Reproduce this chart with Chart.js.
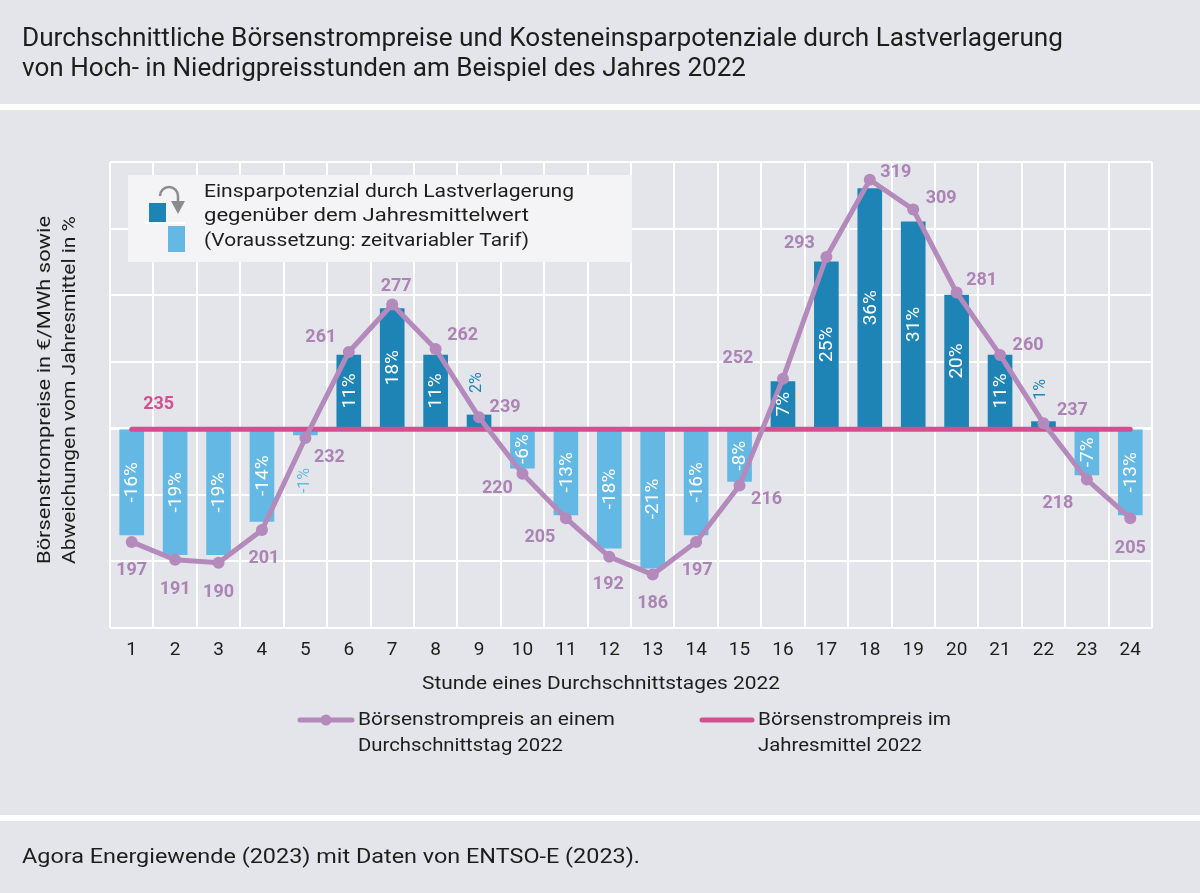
<!DOCTYPE html>
<html>
<head>
<meta charset="utf-8">
<script src="https://cdn.jsdelivr.net/npm/chart.js@4.4.1/dist/chart.umd.min.js"></script>
<style>
  html, body { margin: 0; padding: 0; background: #e4e5ea; }
  #wrap { width: 1200px; height: 893px; }
</style>
</head>
<body>
<div id="wrap"><canvas id="chart" width="1200" height="893"></canvas></div>
<script>
const FONT = 'Roboto, "Open Sans", sans-serif';

// ─── DATA ─────────────────────────────────────────────────────────────
const hours = ['1','2','3','4','5','6','7','8','9','10','11','12','13','14','15','16','17','18','19','20','21','22','23','24'];
const prices = [197, 191, 190, 201, 232, 261, 277, 262, 239, 220, 205, 192, 186, 197, 216, 252, 293, 319, 309, 281, 260, 237, 218, 205];
const deviations = [-16, -19, -19, -14, -1, 11, 18, 11, 2, -6, -13, -18, -21, -16, -8, 7, 25, 36, 31, 20, 11, 1, -7, -13];
const annualMean = 235;
const meanSeries = hours.map(() => annualMean);

// label placement around each price point (dx, dy in px)
const priceLabelOffsets = [
  [0, 29], [0, 30], [0, 30], [2, 28], [24, 19], [-28, -14], [4, -18], [27, -13],
  [26, -10], [-25, 15], [-26, 19], [-1, 28], [0, 29], [1, 29], [27, 14], [-45, -20],
  [-27, -13], [26, -7], [28, -11], [25, -12], [28, -9], [29, -13], [-29, 24], [0, 30],
];

const C = {
  bg: '#e4e5ea',
  grid: '#ffffff',
  dark: '#1d84b5',
  light: '#63b8e4',
  purple: '#b38abb',
  purpleText: '#ab83b4',
  pink: '#d24f90',
  text: '#1d1d1b',
};

// draw text stretched horizontally to a given width
function fitText(ctx, text, x, y, width) {
  const w = ctx.measureText(text).width;
  ctx.save();
  ctx.translate(x, y);
  ctx.scale(width / w, 1);
  ctx.fillText(text, 0, 0);
  ctx.restore();
}

// ─── PLUGINS ──────────────────────────────────────────────────────────
const frame = {
  id: 'frame',
  beforeDraw(chart) {
    const { ctx } = chart;
    ctx.save();
    ctx.fillStyle = C.bg;
    ctx.fillRect(0, 0, 1200, 893);
    ctx.fillStyle = '#ffffff';
    ctx.fillRect(0, 104, 1200, 6);
    ctx.fillRect(0, 815, 1200, 6);

    ctx.fillStyle = C.text;
    ctx.textBaseline = 'middle';
    ctx.font = `25px ${FONT}`;
    fitText(ctx, 'Durchschnittliche Börsenstrompreise und Kosteneinsparpotenziale durch Lastverlagerung', 22, 40, 1041);
    fitText(ctx, 'von Hoch- in Niedrigpreisstunden am Beispiel des Jahres 2022', 22, 70, 724);

    ctx.font = `21px ${FONT}`;
    fitText(ctx, 'Agora Energiewende (2023) mit Daten von ENTSO-E (2023).', 22, 858, 618);

    // y axis title
    ctx.font = `19px ${FONT}`;
    ctx.textAlign = 'center';
    ctx.save();
    ctx.translate(45, 390);
    ctx.rotate(-Math.PI / 2);
    fitText(ctx, 'Börsenstrompreise in €/MWh sowie', 0, 0, 348);
    fitText(ctx, 'Abweichungen vom Jahresmittel in %', 0, 25, 348);
    ctx.restore();

    // x axis title
    ctx.textAlign = 'left';
    fitText(ctx, 'Stunde eines Durchschnittstages 2022', 422, 684, 358);

    // bottom legend
    ctx.lineCap = 'round';
    ctx.lineWidth = 5;
    ctx.strokeStyle = C.purple;
    ctx.beginPath(); ctx.moveTo(300, 720); ctx.lineTo(352, 720); ctx.stroke();
    ctx.fillStyle = C.purple;
    ctx.beginPath(); ctx.arc(326, 720, 5.5, 0, Math.PI * 2); ctx.fill();
    ctx.strokeStyle = C.pink;
    ctx.beginPath(); ctx.moveTo(702, 720); ctx.lineTo(752, 720); ctx.stroke();
    ctx.fillStyle = C.text;
    ctx.font = `19px ${FONT}`;
    fitText(ctx, 'Börsenstrompreis an einem', 358, 720, 257);
    fitText(ctx, 'Durchschnittstag 2022', 358, 746, 205);
    fitText(ctx, 'Börsenstrompreis im', 758, 720, 193);
    fitText(ctx, 'Jahresmittel 2022', 758, 746, 164);
    ctx.restore();
  },
  beforeDatasetsDraw(chart) {
    const { ctx } = chart;
    ctx.save();
    // legend box
    ctx.fillStyle = '#f4f4f6';
    ctx.fillRect(128, 175, 504, 87);
    ctx.fillStyle = C.dark;
    ctx.fillRect(149, 203, 17, 19);
    ctx.fillStyle = '#ffffff';
    ctx.fillRect(145, 222, 40, 2);
    ctx.fillStyle = C.light;
    ctx.fillRect(168, 226, 17, 26);
    // arrow
    ctx.strokeStyle = '#8b8b8b';
    ctx.lineWidth = 2.5;
    ctx.beginPath();
    ctx.arc(169, 196, 9, Math.PI * 1.0, Math.PI * 2.0);
    ctx.lineTo(178, 203);
    ctx.stroke();
    ctx.fillStyle = '#8b8b8b';
    ctx.beginPath();
    ctx.moveTo(171, 201); ctx.lineTo(185, 201); ctx.lineTo(178, 214); ctx.closePath();
    ctx.fill();
    ctx.fillStyle = C.text;
    ctx.font = `19px ${FONT}`;
    ctx.textBaseline = 'middle';
    fitText(ctx, 'Einsparpotenzial durch Lastverlagerung', 204, 192, 370);
    fitText(ctx, 'gegenüber dem Jahresmittelwert', 204, 216, 325);
    fitText(ctx, '(Voraussetzung: zeitvariabler Tarif)', 204, 241, 325);
    ctx.restore();
  },
  afterDatasetsDraw(chart) {
    const { ctx } = chart;
    ctx.save();
    ctx.textBaseline = 'middle';

    // bar labels
    const bars = chart.getDatasetMeta(2).data;
    bars.forEach((el, i) => {
      const v = deviations[i];
      const txt = v + '%';
      ctx.save();
      if (Math.abs(v) >= 5) {
        ctx.translate(el.x, (el.y + el.base) / 2);
        ctx.rotate(-Math.PI / 2);
        ctx.textAlign = 'center';
        ctx.fillStyle = '#ffffff';
        ctx.font = `19px ${FONT}`;
        ctx.fillText(txt, 0, 1);
      } else {
        ctx.font = `16px ${FONT}`;
        ctx.fillStyle = v >= 0 ? C.dark : C.light;
        if (v >= 0) {
          ctx.translate(el.x - 2, el.y - 22);
          ctx.rotate(-Math.PI / 2);
          ctx.textAlign = 'left';
        } else {
          ctx.translate(el.x, el.y + 33);
          ctx.rotate(-Math.PI / 2);
          ctx.textAlign = 'right';
        }
        ctx.fillText(txt, 0, 0);
      }
      ctx.restore();
    });

    // price labels
    ctx.textAlign = 'center';
    ctx.font = `bold 18px ${FONT}`;
    ctx.fillStyle = C.purpleText;
    chart.getDatasetMeta(0).data.forEach((pt, i) => {
      const [dx, dy] = priceLabelOffsets[i];
      ctx.fillText(String(prices[i]), pt.x + dx, pt.y + dy);
    });

    // mean label
    const m = chart.getDatasetMeta(1).data[0];
    ctx.fillStyle = C.pink;
    ctx.fillText(String(annualMean), m.x + 27, m.y - 25);
    ctx.restore();
  },
};

// ─── CHART ────────────────────────────────────────────────────────────
new Chart(document.getElementById('chart'), {
  data: {
    labels: hours,
    datasets: [
      {
        type: 'line',
        label: 'Börsenstrompreis an einem Durchschnittstag 2022',
        data: prices,
        yAxisID: 'y2',
        borderColor: C.purple,
        backgroundColor: C.purple,
        borderWidth: 5,
        pointRadius: 6,
        pointBorderWidth: 0,
        tension: 0,
        order: 0,
      },
      {
        type: 'line',
        label: 'Börsenstrompreis im Jahresmittel 2022',
        data: meanSeries,
        yAxisID: 'y2',
        borderColor: C.pink,
        borderWidth: 5,
        borderCapStyle: 'round',
        pointRadius: 0,
        order: 1,
      },
      {
        type: 'bar',
        label: 'Einsparpotenzial',
        data: deviations,
        yAxisID: 'y',
        backgroundColor: deviations.map(v => v >= 0 ? C.dark : C.light),
        barThickness: 24,
        order: 2,
      },
    ],
  },
  options: {
    responsive: false,
    animation: false,
    devicePixelRatio: 1,
    layout: { padding: { left: 110, right: 48, top: 162, bottom: 235 } },
    plugins: { legend: { display: false }, tooltip: { enabled: false } },
    scales: {
      x: {
        offset: true,
        grid: { color: C.grid, lineWidth: 2, offset: true, drawTicks: false },
        border: { display: false },
        ticks: { color: C.text, font: { size: 19, family: FONT }, padding: 11 },
        afterFit: s => { s.height = 30; },
      },
      y: {
        min: -30, max: 40,
        ticks: { stepSize: 10, display: false },
        grid: { color: C.grid, lineWidth: c => c.tick.value === 0 ? 3 : 2, drawTicks: false },
        border: { display: false },
        afterFit: s => { s.width = 0; },
      },
      y2: {
        display: false,
        min: 168, max: 325,
      },
    },
  },
  plugins: [frame],
});
</script>
</body>
</html>
